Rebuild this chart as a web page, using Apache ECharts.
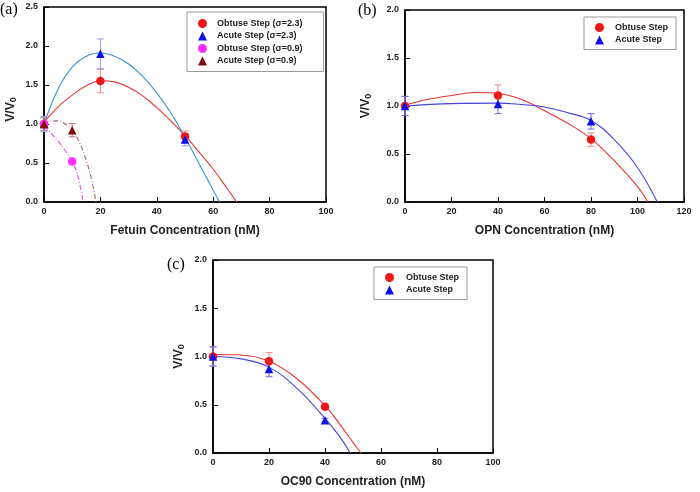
<!DOCTYPE html>
<html>
<head>
<meta charset="utf-8">
<script src="https://cdn.jsdelivr.net/npm/echarts@6/dist/echarts.min.js"></script>
<style>
html,body{margin:0;padding:0;background:#fff;}
#chart{width:700px;height:492px;}
</style>
</head>
<body>
<div id="chart"></div>
<script>
// ---------- Panel (a): Fetuin ----------
const aX = [0, 20, 50];
const aObtuse23 = [1.0, 1.55, 0.84];
const aObtuse23Err = [0.09, 0.15, 0.07];
const aAcute23 = [1.0, 1.90, 0.80];
const aAcute23Err = [0.10, 0.19, 0.08];
const aX09 = [0, 10];
const aObtuse09 = [1.0, 0.52];
const aObtuse09Err = [0, 0];
const aAcute09 = [1.0, 0.92];
const aAcute09Err = [0.08, 0.085];
// fitted curves
const aFitObtuse23X = [0, 5, 10, 15, 20, 25, 30, 35, 40, 45, 50, 55, 60, 65, 68.3];
const aFitObtuse23Y = [1.02, 1.22, 1.37, 1.49, 1.555, 1.54, 1.47, 1.36, 1.21, 1.04, 0.85, 0.64, 0.42, 0.17, 0];
const aFitAcute23X = [0, 5, 10, 15, 20, 25, 30, 35, 40, 45, 50, 55, 60, 62.3];
const aFitAcute23Y = [1.0, 1.45, 1.73, 1.87, 1.91, 1.87, 1.77, 1.61, 1.40, 1.14, 0.83, 0.49, 0.15, 0];
const aFitObtuse09X = [0, 2.5, 5, 7.5, 10, 12, 13.9];
const aFitObtuse09Y = [0.97, 0.88, 0.78, 0.66, 0.52, 0.33, 0];
const aFitAcute09X = [0, 2.5, 5, 7.5, 10, 12.5, 15, 17, 18.4];
const aFitAcute09Y = [1.0, 1.04, 1.04, 1.0, 0.92, 0.77, 0.53, 0.27, 0];

// ---------- Panel (b): OPN ----------
const bX = [0, 40, 80];
const bObtuse = [1.0, 1.11, 0.65];
const bObtuseErr = [0.1, 0.11, 0.07];
const bAcute = [1.0, 1.02, 0.84];
const bAcuteErr = [0.1, 0.1, 0.08];
const bFitObtuseX = [0, 10, 20, 30, 40, 50, 60, 70, 80, 90, 100, 104.5];
const bFitObtuseY = [1.01, 1.07, 1.11, 1.14, 1.13, 1.07, 0.95, 0.82, 0.66, 0.43, 0.16, 0];
const bFitAcuteX = [0, 20, 40, 50, 60, 70, 80, 90, 100, 108.5];
const bFitAcuteY = [1.0, 1.025, 1.03, 1.015, 0.99, 0.93, 0.85, 0.65, 0.36, 0];

// ---------- Panel (c): OC90 ----------
const cX = [0, 20, 40];
const cObtuse = [1.0, 0.95, 0.48];
const cObtuseErr = [0.1, 0.09, 0.03];
const cAcute = [1.0, 0.87, 0.34];
const cAcuteErr = [0.1, 0.08, 0.02];
const cFitObtuseX = [0, 10, 20, 30, 40, 45, 50, 52.8];
const cFitObtuseY = [1.02, 1.015, 0.95, 0.77, 0.49, 0.31, 0.11, 0];
const cFitAcuteX = [0, 10, 20, 30, 40, 45, 49];
const cFitAcuteY = [1.0, 0.975, 0.89, 0.67, 0.36, 0.18, 0];

// tick settings
const aXTicks = {min: 0, max: 100, interval: 20};
const aYTicks = {min: 0, max: 2.5, interval: 0.5};
const bXTicks = {min: 0, max: 120, interval: 20};
const bYTicks = {min: 0, max: 2.0, interval: 0.5};
const cXTicks = {min: 0, max: 100, interval: 20};
const cYTicks = {min: 0, max: 2.0, interval: 0.5};

const FONT = '"Liberation Sans", Arial, sans-serif';

function pairs(xs, ys) { return xs.map((x, i) => [x, ys[i]]); }
function errs(xs, ys, es) { return xs.map((x, i) => [x, ys[i] - es[i], ys[i] + es[i]]); }

function xAxis(gi, t, name) {
  return {
    gridIndex: gi, type: 'value', min: t.min, max: t.max, interval: t.interval,
    name: name, nameLocation: 'middle', nameGap: 23,
    nameTextStyle: {fontFamily: FONT, fontSize: 12, fontWeight: 'bold', color: '#222'},
    axisLine: {show: true, onZero: false, lineStyle: {color: '#000', width: 1.5}},
    axisTick: {show: true, inside: true, length: 5, lineStyle: {color: '#000', width: 1}},
    axisLabel: {fontFamily: FONT, fontSize: 9, fontWeight: 'bold', color: '#222', margin: 5},
    splitLine: {show: false}
  };
}
function yAxis(gi, t, gap, shift) {
  return {
    gridIndex: gi, type: 'value', min: t.min, max: t.max, interval: t.interval,
    name: '{m|V/V}{s|0}', nameLocation: 'middle', nameGap: gap,
    nameTextStyle: {
      fontFamily: FONT, fontSize: 12, fontWeight: 'bold', color: '#222',
      padding: [0, shift, 0, 0],
      rich: {
        m: {fontFamily: FONT, fontSize: 12, fontWeight: 'bold', color: '#222'},
        s: {fontFamily: FONT, fontSize: 9, fontWeight: 'bold', color: '#222', padding: [5, 0, 0, 0]}
      }
    },
    axisLine: {show: true, onZero: false, lineStyle: {color: '#000', width: 1.5}},
    axisTick: {show: true, inside: true, length: 5, lineStyle: {color: '#000', width: 1}},
    axisLabel: {fontFamily: FONT, fontSize: 9, fontWeight: 'bold', color: '#222', margin: 6,
      formatter: v => v.toFixed(1)},
    splitLine: {show: false}
  };
}
function scatter(name, gi, xs, ys, symbol, color) {
  return {
    name: name, type: 'scatter', xAxisIndex: gi, yAxisIndex: gi,
    data: pairs(xs, ys), symbol: symbol, symbolSize: 8.5,
    itemStyle: {color: color, opacity: 1}, z: 5, silent: true
  };
}
function fit(name, gi, xs, ys, color, dash) {
  return {
    name: name, type: 'line', xAxisIndex: gi, yAxisIndex: gi,
    data: pairs(xs, ys), smooth: 0.4, showSymbol: false, symbol: 'none',
    lineStyle: {color: color, width: 1.1, type: dash || 'solid'}, z: 3, silent: true
  };
}
function errBar(name, gi, xs, ys, es, color) {
  return {
    name: name, type: 'custom', xAxisIndex: gi, yAxisIndex: gi,
    data: errs(xs, ys, es), z: 4, silent: true,
    renderItem: function (params, api) {
      const x = api.value(0), lo = api.value(1), hi = api.value(2);
      if (hi - lo <= 0) return null;
      const p1 = api.coord([x, hi]);
      const p2 = api.coord([x, lo]);
      const w = 3.5;
      const st = {stroke: color, lineWidth: 1};
      return {
        type: 'group',
        children: [
          {type: 'line', shape: {x1: p1[0], y1: p1[1], x2: p2[0], y2: p2[1]}, style: st},
          {type: 'line', shape: {x1: p1[0] - w, y1: p1[1], x2: p1[0] + w, y2: p1[1]}, style: st},
          {type: 'line', shape: {x1: p2[0] - w, y1: p2[1], x2: p2[0] + w, y2: p2[1]}, style: st}
        ]
      };
    }
  };
}
function legend(left, top, names, gap, pad, textPad) {
  return {
    left: left, top: top, orient: 'vertical', data: names,
    itemWidth: 9, itemHeight: 9, itemGap: gap, padding: pad,
    borderColor: '#999', borderWidth: 1, backgroundColor: '#fff', borderRadius: 0,
    selectedMode: false,
    textStyle: {fontFamily: FONT, fontSize: 9, fontWeight: 'bold', color: '#222', lineHeight: 9,
      padding: [0, 0, 0, textPad]}
  };
}

const RED = '#f01616', BLUE = '#1010ee', MAG = '#ff2dff', BROWN = '#7d0c0c';
const DASHDOT = [5, 2, 1, 2];

const nA = ['Obtuse Step (\u03c3=2.3)', 'Acute Step (\u03c3=2.3)', 'Obtuse Step (\u03c3=0.9)', 'Acute Step (\u03c3=0.9)'];
const nB = ['Obtuse Step', 'Acute Step'];

const option = {
  animation: false,
  backgroundColor: '#fff',
  grid: [
    {left: 44, top: 7, width: 282, height: 195, show: true, borderColor: '#000', borderWidth: 1.5, containLabel: false},
    {left: 405, top: 10, width: 279, height: 192, show: true, borderColor: '#000', borderWidth: 1.5, containLabel: false},
    {left: 213, top: 260, width: 280, height: 193, show: true, borderColor: '#000', borderWidth: 1.5, containLabel: false}
  ],
  xAxis: [
    xAxis(0, aXTicks, 'Fetuin Concentration (nM)'),
    xAxis(1, bXTicks, 'OPN Concentration (nM)'),
    xAxis(2, cXTicks, 'OC90 Concentration (nM)')
  ],
  yAxis: [
    yAxis(0, aYTicks, 26, 10),
    yAxis(1, bYTicks, 32, 0),
    yAxis(2, cYTicks, 27, 0)
  ],
  legend: [
    legend(187, 12, nA, 3.5, [7, 21, 6, 11], 5),
    legend(584, 17, nB, 3.5, [6, 8, 5, 11], 6),
    legend(374, 267, nB, 3.5, [6, 8, 5, 11], 7)
  ],
  graphic: [
    {type: 'text', left: 0, top: 2, style: {text: '(a)', font: '16px "Liberation Serif", serif', fill: '#000'}},
    {type: 'text', left: 358, top: 3, style: {text: '(b)', font: '16px "Liberation Serif", serif', fill: '#000'}},
    {type: 'text', left: 167, top: 257, style: {text: '(c)', font: '16px "Liberation Serif", serif', fill: '#000'}}
  ],
  series: [
    // panel a
    fit('fitA1', 0, aFitObtuse23X, aFitObtuse23Y, '#e8352f'),
    fit('fitA2', 0, aFitAcute23X, aFitAcute23Y, '#3b93d6'),
    fit('fitA3', 0, aFitObtuse09X, aFitObtuse09Y, '#e050e0', DASHDOT),
    fit('fitA4', 0, aFitAcute09X, aFitAcute09Y, '#a86a6a', DASHDOT),
    errBar('errA1', 0, aX, aObtuse23, aObtuse23Err, '#f08a8a'),
    errBar('errA2', 0, aX, aAcute23, aAcute23Err, '#9c9cf0'),
    errBar('errA3', 0, aX09, aObtuse09, aObtuse09Err, '#f090f0'),
    errBar('errA4', 0, aX09, aAcute09, aAcute09Err, '#b07a7a'),
    scatter(nA[0], 0, aX, aObtuse23, 'circle', RED),
    scatter(nA[1], 0, aX, aAcute23, 'triangle', BLUE),
    scatter(nA[2], 0, aX09, aObtuse09, 'circle', MAG),
    scatter(nA[3], 0, aX09, aAcute09, 'triangle', BROWN),
    // panel b
    fit('fitB1', 1, bFitObtuseX, bFitObtuseY, '#e8352f'),
    fit('fitB2', 1, bFitAcuteX, bFitAcuteY, '#4545d8'),
    errBar('errB1', 1, bX, bObtuse, bObtuseErr, '#f08a8a'),
    errBar('errB2', 1, bX, bAcute, bAcuteErr, '#6a6ae8'),
    scatter(nB[0], 1, bX, bObtuse, 'circle', RED),
    scatter(nB[1], 1, bX, bAcute, 'triangle', BLUE),
    // panel c
    fit('fitC1', 2, cFitObtuseX, cFitObtuseY, '#e8352f'),
    fit('fitC2', 2, cFitAcuteX, cFitAcuteY, '#4545d8'),
    errBar('errC1', 2, cX, cObtuse, cObtuseErr, '#f08a8a'),
    errBar('errC2', 2, cX, cAcute, cAcuteErr, '#6a6ae8'),
    scatter(nB[0], 2, cX, cObtuse, 'circle', RED),
    scatter(nB[1], 2, cX, cAcute, 'triangle', BLUE)
  ]
};

const chart = echarts.init(document.getElementById('chart'), null, {renderer: 'canvas'});
chart.setOption(option);
</script>
</body>
</html>
